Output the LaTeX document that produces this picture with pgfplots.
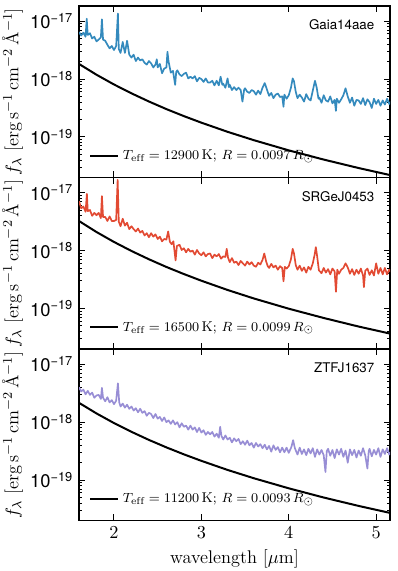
\documentclass[border=0pt]{standalone}
\usepackage{fontspec}
\newfontfamily\helv{TeX Gyre Heros}
\usepackage{pgfplots}
\pgfplotsset{compat=1.18}

\definecolor{ggblue}{HTML}{348ABD}
\definecolor{ggred}{HTML}{E24A33}
\definecolor{ggpurple}{HTML}{988ED5}

% spectra: wavelength [micron], log10 f_lambda
\pgfplotstableread[row sep=\\]{x y\\
1.600 -17.19\\ 1.625 -17.25\\ 1.650 -17.20\\ 1.675 -17.27\\ 1.688 -16.96\\ 1.700 -17.24\\ 1.725 -17.21\\ 1.750 -17.30\\
1.775 -17.27\\ 1.800 -17.35\\ 1.825 -17.32\\ 1.850 -17.28\\ 1.862 -16.97\\ 1.875 -17.32\\ 1.900 -17.34\\ 1.925 -17.41\\
1.950 -17.47\\ 1.975 -17.43\\ 2.000 -17.50\\ 2.025 -17.43\\ 2.045 -16.87\\ 2.055 -17.48\\ 2.075 -17.55\\ 2.100 -17.36\\
2.125 -17.55\\ 2.150 -17.34\\ 2.175 -17.58\\ 2.200 -17.63\\ 2.225 -17.58\\ 2.250 -17.69\\ 2.275 -17.63\\ 2.300 -17.68\\
2.325 -17.66\\ 2.350 -17.72\\ 2.375 -17.75\\ 2.400 -17.69\\ 2.425 -17.73\\ 2.450 -17.80\\ 2.475 -17.75\\ 2.490 -17.66\\
2.500 -17.80\\ 2.525 -17.74\\ 2.550 -17.90\\ 2.575 -17.82\\ 2.600 -17.80\\ 2.612 -17.53\\ 2.625 -17.70\\ 2.650 -17.89\\
2.675 -17.86\\ 2.700 -18.10\\ 2.712 -17.88\\ 2.725 -17.85\\ 2.750 -17.92\\ 2.775 -17.95\\ 2.800 -17.91\\ 2.825 -17.89\\
2.850 -17.99\\ 2.875 -17.96\\ 2.900 -17.99\\ 2.925 -17.95\\ 2.950 -18.04\\ 2.975 -17.98\\ 3.000 -18.00\\ 3.025 -18.05\\
3.050 -17.99\\ 3.075 -18.06\\ 3.100 -18.06\\ 3.125 -18.03\\ 3.150 -18.11\\ 3.175 -18.03\\ 3.200 -18.11\\ 3.220 -17.96\\
3.240 -18.10\\ 3.250 -18.08\\ 3.275 -18.15\\ 3.300 -17.99\\ 3.315 -18.14\\ 3.325 -18.10\\ 3.350 -18.19\\ 3.375 -18.14\\
3.400 -18.19\\ 3.425 -18.15\\ 3.450 -18.19\\ 3.470 -18.39\\ 3.490 -18.18\\ 3.500 -18.16\\ 3.525 -18.22\\ 3.550 -18.24\\
3.575 -18.19\\ 3.600 -18.21\\ 3.625 -18.27\\ 3.650 -18.20\\ 3.675 -18.26\\ 3.700 -18.15\\ 3.725 -18.07\\ 3.750 -18.18\\
3.775 -18.29\\ 3.800 -18.24\\ 3.825 -18.33\\ 3.850 -18.27\\ 3.875 -18.25\\ 3.900 -18.31\\ 3.925 -18.30\\ 3.940 -18.48\\
3.950 -18.27\\ 3.975 -18.34\\ 4.000 -18.28\\ 4.025 -18.15\\ 4.045 -17.99\\ 4.060 -18.04\\ 4.080 -18.22\\ 4.100 -18.33\\
4.125 -18.27\\ 4.150 -18.32\\ 4.175 -18.39\\ 4.200 -18.26\\ 4.225 -18.34\\ 4.250 -18.37\\ 4.275 -18.20\\ 4.300 -18.03\\
4.320 -18.15\\ 4.340 -18.34\\ 4.350 -18.32\\ 4.375 -18.41\\ 4.400 -18.28\\ 4.425 -18.37\\ 4.450 -18.39\\ 4.475 -18.30\\
4.500 -18.42\\ 4.525 -18.36\\ 4.540 -18.55\\ 4.550 -18.34\\ 4.575 -18.41\\ 4.600 -18.35\\ 4.625 -18.28\\ 4.650 -18.16\\
4.675 -18.30\\ 4.700 -18.41\\ 4.725 -18.32\\ 4.750 -18.46\\ 4.775 -18.36\\ 4.800 -18.37\\ 4.825 -18.43\\ 4.850 -18.33\\
4.875 -18.45\\ 4.900 -18.35\\ 4.925 -18.40\\ 4.950 -18.50\\ 4.975 -18.34\\ 5.000 -18.43\\ 5.025 -18.36\\ 5.050 -18.46\\
5.075 -18.37\\ 5.100 -18.44\\ 5.125 -18.34\\ 5.150 -18.43\\ 5.175 -18.38\\
}\gaia

\pgfplotstableread[row sep=\\]{x y\\
1.600 -17.15\\ 1.625 -17.27\\ 1.650 -17.24\\ 1.675 -17.33\\ 1.690 -17.02\\ 1.700 -17.32\\ 1.725 -17.30\\ 1.750 -17.40\\
1.775 -17.35\\ 1.800 -17.39\\ 1.825 -17.35\\ 1.850 -17.44\\ 1.862 -17.06\\ 1.875 -17.42\\ 1.900 -17.42\\ 1.925 -17.49\\
1.950 -17.41\\ 1.975 -17.49\\ 2.000 -17.49\\ 2.025 -17.47\\ 2.042 -16.78\\ 2.055 -17.50\\ 2.075 -17.58\\ 2.100 -17.45\\
2.125 -17.57\\ 2.150 -17.52\\ 2.175 -17.63\\ 2.200 -17.58\\ 2.225 -17.63\\ 2.250 -17.67\\ 2.275 -17.62\\ 2.300 -17.69\\
2.325 -17.66\\ 2.350 -17.74\\ 2.375 -17.70\\ 2.400 -17.77\\ 2.425 -17.70\\ 2.450 -17.76\\ 2.475 -17.72\\ 2.500 -17.80\\
2.525 -17.76\\ 2.550 -17.84\\ 2.575 -17.80\\ 2.600 -17.81\\ 2.620 -17.67\\ 2.640 -17.85\\ 2.660 -17.89\\ 2.680 -17.84\\
2.705 -18.17\\ 2.720 -17.92\\ 2.750 -17.90\\ 2.775 -17.99\\ 2.800 -17.96\\ 2.825 -18.03\\ 2.850 -17.97\\ 2.875 -18.02\\
2.900 -18.00\\ 2.925 -18.07\\ 2.950 -17.99\\ 2.975 -18.05\\ 3.000 -18.08\\ 3.025 -18.03\\ 3.050 -18.10\\ 3.075 -18.06\\
3.100 -18.05\\ 3.125 -18.13\\ 3.150 -18.07\\ 3.175 -18.10\\ 3.200 -18.06\\ 3.225 -18.14\\ 3.250 -18.10\\ 3.275 -18.11\\
3.290 -17.97\\ 3.305 -18.12\\ 3.325 -18.20\\ 3.350 -18.13\\ 3.375 -18.21\\ 3.400 -18.19\\ 3.425 -18.25\\ 3.450 -18.18\\
3.475 -18.22\\ 3.500 -18.26\\ 3.525 -18.19\\ 3.550 -18.24\\ 3.575 -18.20\\ 3.600 -18.26\\ 3.625 -18.28\\ 3.650 -18.21\\
3.675 -18.24\\ 3.700 -18.16\\ 3.720 -18.05\\ 3.740 -18.18\\ 3.760 -18.27\\ 3.775 -18.30\\ 3.800 -18.23\\ 3.825 -18.29\\
3.850 -18.26\\ 3.875 -18.33\\ 3.900 -18.27\\ 3.925 -18.30\\ 3.940 -18.53\\ 3.955 -18.28\\ 3.975 -18.31\\ 4.000 -18.27\\
4.025 -18.15\\ 4.045 -17.97\\ 4.060 -18.05\\ 4.080 -18.25\\ 4.100 -18.33\\ 4.125 -18.26\\ 4.150 -18.35\\ 4.175 -18.29\\
4.200 -18.38\\ 4.225 -18.28\\ 4.250 -18.33\\ 4.275 -18.22\\ 4.295 -18.08\\ 4.310 -17.94\\ 4.325 -18.10\\ 4.345 -18.34\\
4.375 -18.39\\ 4.400 -18.30\\ 4.425 -18.38\\ 4.450 -18.32\\ 4.475 -18.41\\ 4.500 -18.31\\ 4.525 -18.36\\ 4.540 -18.71\\
4.555 -18.33\\ 4.575 -18.40\\ 4.600 -18.33\\ 4.625 -18.30\\ 4.650 -18.22\\ 4.675 -18.29\\ 4.700 -18.40\\ 4.725 -18.32\\
4.750 -18.42\\ 4.775 -18.33\\ 4.800 -18.40\\ 4.825 -18.31\\ 4.850 -18.43\\ 4.860 -18.63\\ 4.875 -18.35\\ 4.900 -18.31\\
4.925 -18.42\\ 4.950 -18.34\\ 4.975 -18.43\\ 5.000 -18.22\\ 5.025 -18.40\\ 5.050 -18.30\\ 5.075 -18.41\\ 5.100 -18.30\\
5.125 -18.41\\ 5.150 -18.33\\ 5.175 -18.38\\
}\srge

\pgfplotstableread[row sep=\\]{x y\\
1.600 -17.40\\ 1.625 -17.47\\ 1.650 -17.44\\ 1.675 -17.52\\ 1.700 -17.46\\ 1.725 -17.53\\ 1.750 -17.49\\ 1.775 -17.58\\
1.800 -17.54\\ 1.825 -17.53\\ 1.850 -17.60\\ 1.862 -17.41\\ 1.875 -17.58\\ 1.900 -17.64\\ 1.925 -17.57\\ 1.950 -17.66\\
1.975 -17.62\\ 2.000 -17.69\\ 2.025 -17.63\\ 2.045 -17.33\\ 2.060 -17.66\\ 2.075 -17.73\\ 2.100 -17.68\\ 2.125 -17.75\\
2.150 -17.70\\ 2.175 -17.77\\ 2.200 -17.73\\ 2.225 -17.80\\ 2.250 -17.76\\ 2.275 -17.83\\ 2.300 -17.77\\ 2.325 -17.84\\
2.350 -17.81\\ 2.375 -17.89\\ 2.400 -17.84\\ 2.425 -17.86\\ 2.450 -17.93\\ 2.475 -17.86\\ 2.500 -17.94\\ 2.525 -17.91\\
2.550 -17.98\\ 2.575 -17.92\\ 2.600 -18.00\\ 2.625 -17.97\\ 2.650 -18.03\\ 2.675 -17.97\\ 2.700 -18.04\\ 2.725 -18.00\\
2.750 -18.09\\ 2.775 -18.02\\ 2.800 -18.08\\ 2.825 -18.06\\ 2.850 -18.13\\ 2.875 -18.06\\ 2.900 -18.13\\ 2.925 -18.09\\
2.950 -18.17\\ 2.975 -18.10\\ 3.000 -18.18\\ 3.025 -18.14\\ 3.050 -18.22\\ 3.075 -18.17\\ 3.100 -18.21\\ 3.125 -18.17\\
3.150 -18.25\\ 3.175 -18.20\\ 3.200 -18.27\\ 3.215 -18.08\\ 3.230 -18.24\\ 3.250 -18.30\\ 3.275 -18.23\\ 3.300 -18.30\\
3.325 -18.27\\ 3.350 -18.35\\ 3.375 -18.28\\ 3.400 -18.33\\ 3.425 -18.29\\ 3.450 -18.38\\ 3.475 -18.33\\ 3.500 -18.39\\
3.525 -18.32\\ 3.550 -18.40\\ 3.575 -18.36\\ 3.600 -18.44\\ 3.625 -18.36\\ 3.650 -18.42\\ 3.675 -18.38\\ 3.700 -18.45\\
3.725 -18.39\\ 3.750 -18.47\\ 3.775 -18.41\\ 3.800 -18.51\\ 3.825 -18.40\\ 3.850 -18.48\\ 3.875 -18.43\\ 3.900 -18.52\\
3.925 -18.44\\ 3.950 -18.52\\ 3.975 -18.44\\ 4.000 -18.53\\ 4.030 -18.43\\ 4.050 -18.31\\ 4.070 -18.45\\ 4.100 -18.56\\
4.125 -18.44\\ 4.150 -18.55\\ 4.175 -18.47\\ 4.200 -18.57\\ 4.225 -18.46\\ 4.250 -18.54\\ 4.275 -18.45\\ 4.300 -18.60\\
4.325 -18.47\\ 4.350 -18.56\\ 4.375 -18.48\\ 4.400 -18.57\\ 4.420 -18.86\\ 4.435 -18.50\\ 4.450 -18.46\\ 4.475 -18.58\\
4.500 -18.48\\ 4.525 -18.62\\ 4.550 -18.47\\ 4.575 -18.56\\ 4.600 -18.46\\ 4.625 -18.60\\ 4.650 -18.49\\ 4.675 -18.70\\
4.700 -18.47\\ 4.725 -18.57\\ 4.750 -18.48\\ 4.775 -18.61\\ 4.800 -18.49\\ 4.825 -18.58\\ 4.850 -18.45\\ 4.875 -18.57\\
4.900 -18.80\\ 4.915 -18.50\\ 4.925 -18.46\\ 4.950 -18.59\\ 4.975 -18.48\\ 5.000 -18.56\\ 5.025 -18.45\\ 5.050 -18.60\\
5.075 -18.47\\ 5.100 -18.55\\ 5.125 -18.45\\ 5.150 -18.56\\ 5.175 -18.50\\
}\ztf

% blackbody fits, log10 f_lambda
\pgfplotstableread[row sep=\\]{x a b c\\
1.6 -17.740 -17.490 -17.667\\ 1.8 -17.926 -17.680 -17.850\\ 2.0 -18.094 -17.851 -18.016\\
2.2 -18.247 -18.007 -18.167\\ 2.4 -18.388 -18.150 -18.307\\ 2.6 -18.519 -18.283 -18.436\\
2.8 -18.640 -18.405 -18.556\\ 3.0 -18.753 -18.520 -18.668\\ 3.3 -18.911 -18.680 -18.825\\
3.6 -19.055 -18.826 -18.968\\ 4.0 -19.231 -19.003 -19.142\\ 4.4 -19.390 -19.163 -19.301\\
4.8 -19.536 -19.311 -19.446\\ 5.2 -19.671 -19.446 -19.580\\
}\bbody

\pgfplotsset{
  specaxis/.style={
    scale only axis, width=186.6pt, height=102.9pt,
    xmin=1.6, xmax=5.16, ymin=-19.70, ymax=-16.74,
    xtick={2,3,4,5},
    ytick={-19,-18,-17},
    yticklabels={10\textsuperscript{−19},10\textsuperscript{−18},10\textsuperscript{−17}},
    minor ytick={-19.523,-19.398,-19.301,-19.222,-19.155,-19.097,-19.046,
      -18.699,-18.523,-18.398,-18.301,-18.222,-18.155,-18.097,-18.046,
      -17.699,-17.523,-17.398,-17.301,-17.222,-17.155,-17.097,-17.046},
    tick align=inside, tick pos=both,
    major tick length=3.8pt, minor tick length=2pt,
    every tick/.style={black, line width=0.6pt},
    axis line style={line width=0.8pt},
    tick label style={font=\helv\fontsize{11}{13}\selectfont},
    ylabel={$f_\lambda$~[erg\,s$^{-1}$\,cm$^{-2}$\,\AA$^{-1}$]},
    ylabel style={at={(axis description cs:-0.161,0.5)}, anchor=south, font=\fontsize{11}{13}\selectfont},
    legend style={draw=none, fill=none, at={(0.015,0.05)}, anchor=south west,
      font=\fontsize{8.5}{10}\selectfont},
    legend cell align=left,
  },
  specline/.style={line width=1.0pt, line join=round},
  bbline/.style={black, line width=1.2pt},
}

\begin{document}
\begin{tikzpicture}
\useasboundingbox (-47.4pt,-30.2pt) rectangle (190.8pt,312.3pt);

\begin{axis}[specaxis, at={(0,205.8pt)}, xticklabels={}]
\addplot[specline, ggblue, forget plot] table[x=x, y=y] {\gaia};
\addplot[bbline] table[x=x, y=a] {\bbody};
\addlegendentry{$T_\mathrm{eff}=12900\,\mathrm{K};\, R=0.0097\,R_\odot$}
\node[anchor=north east, font=\helv\fontsize{8}{9}\selectfont] at (rel axis cs:0.968,0.955) {Gaia14aae};
\end{axis}

\begin{axis}[specaxis, at={(0,102.9pt)}, xticklabels={}]
\addplot[specline, ggred, forget plot] table[x=x, y=y] {\srge};
\addplot[bbline] table[x=x, y=b] {\bbody};
\addlegendentry{$T_\mathrm{eff}=16500\,\mathrm{K};\, R=0.0099\,R_\odot$}
\node[anchor=north east, font=\helv\fontsize{8}{9}\selectfont] at (rel axis cs:0.968,0.955) {SRGeJ0453};
\end{axis}

\begin{axis}[specaxis, at={(0,0)}, xlabel={wavelength [$\mu$m]},
  xlabel style={font=\fontsize{11}{13}\selectfont}]
\addplot[specline, ggpurple, forget plot] table[x=x, y=y] {\ztf};
\addplot[bbline] table[x=x, y=c] {\bbody};
\addlegendentry{$T_\mathrm{eff}=11200\,\mathrm{K};\, R=0.0093\,R_\odot$}
\node[anchor=north east, font=\helv\fontsize{8}{9}\selectfont] at (rel axis cs:0.968,0.955) {ZTFJ1637};
\end{axis}
\end{tikzpicture}
\end{document}
